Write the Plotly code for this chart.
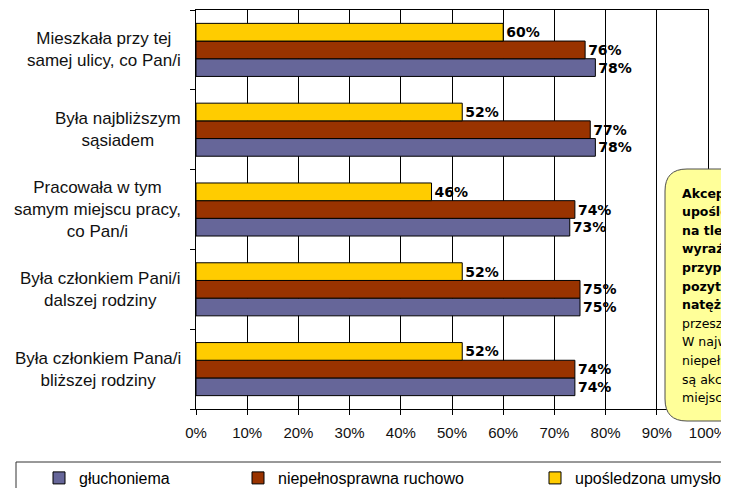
import plotly.graph_objects as go

# ---- data ----
categories = [
    "Mieszkała przy tej<br>samej ulicy, co Pan/i",
    "Była najbliższym<br>sąsiadem",
    "Pracowała w tym<br>samym miejscu pracy,<br>co Pan/i",
    "Była członkiem Pani/i<br>dalszej rodziny",
    "Była członkiem Pana/i<br>bliższej rodziny",
]
series_names = ["głuchoniema", "niepełnosprawna ruchowo", "upośledzona umysłowo"]
gluchoniema = [78, 78, 73, 75, 74]
ruchowo = [76, 77, 74, 75, 74]
umyslowo = [60, 52, 46, 52, 52]
colors = ["#666699", "#993300", "#FFCC00"]
x_ticks = [0, 10, 20, 30, 40, 50, 60, 70, 80, 90, 100]

callout_bold = [
    "Akceptacja osób",
    "upośledzonych umysłowo",
    "na tle pozostałych",
    "wyraźnie niższa – w",
    "przypadku każdej",
    "pozytywnych relacji",
    "natężenie",
]
callout_normal = [
    "przeszkadza im mniej.",
    "W największym stopniu",
    "niepełnosprawni",
    "są akceptowani w",
    "miejscu zamieszkania.",
]

# ---- layout geometry (pixels) ----
# page body has an 8px margin, so the figure is drawn 8px smaller
OFF = 8
W, H = 729 - OFF, 488 - OFF
PLOT_L, PLOT_R, PLOT_T, PLOT_B = 196, 708, 10, 409  # screen pixels of plot area
L, T = PLOT_L - OFF, PLOT_T - OFF
R, B = W - (PLOT_R - OFF), H - (PLOT_B - OFF)
PW, PH = PLOT_R - PLOT_L, PLOT_B - PLOT_T


def px2x(px):
    return (px - PLOT_L) / PW


def py2y(py):
    return (PLOT_B - py) / PH


fig = go.Figure()
values = [gluchoniema, ruchowo, umyslowo]
legends = ["legend", "legend2", "legend3"]
for name, vals, col, lg in zip(series_names, values, colors, legends):
    fig.add_trace(go.Bar(
        y=categories, x=vals, orientation="h", name=name,
        marker=dict(color=col, line=dict(color="black", width=1)),
        text=[f"{v}%" for v in vals], textposition="outside",
        textfont=dict(family="DejaVu Sans", size=14, color="black", weight="bold"),
        cliponaxis=False, legend=lg,
    ))

# category labels as centred annotations
for c in categories:
    fig.add_annotation(
        x=px2x(183), xref="paper", y=c, yref="y", text=c, showarrow=False,
        xanchor="right", yanchor="middle", align="center",
        font=dict(family="Liberation Sans", size=17, color="#111111"),
    )

# callout box (rounded rectangle, cut off at right)
x0, x1 = px2x(665), px2x(820)
yt, yb = py2y(169), py2y(421)
rx, ry = 22 / PW, 22 / PH
path = (f"M {x0+rx},{yt} L {x1},{yt} L {x1},{yb} L {x0+rx},{yb} "
        f"Q {x0},{yb} {x0},{yb+ry} L {x0},{yt-ry} Q {x0},{yt} {x0+rx},{yt} Z")
fig.add_shape(type="path", path=path, xref="paper", yref="paper",
              fillcolor="#FFFF99", line=dict(color="#4d4d4d", width=1), layer="above")

lines = [(t, True) for t in callout_bold] + [(t, False) for t in callout_normal]
y_first, spacing = 193, 18.6
for i, (t, bold) in enumerate(lines):
    fig.add_annotation(
        x=px2x(680), xref="paper", y=py2y(y_first + i * spacing), yref="paper",
        text=t, showarrow=False, xanchor="left", yanchor="middle", align="left",
        font=dict(family="DejaVu Sans", size=12.5, color="black",
                  weight="bold" if bold else "normal"),
    )

# legend frame
fig.add_shape(type="rect", xref="paper", yref="paper",
              x0=px2x(16), x1=px2x(820), y0=py2y(462), y1=py2y(530),
              line=dict(color="#333333", width=1), fillcolor="rgba(0,0,0,0)")

leg_x = [39, 238, 535]
leg_common = dict(orientation="h", yanchor="middle", xanchor="left",
                  bgcolor="rgba(0,0,0,0)", itemwidth=30,
                  font=dict(family="Liberation Sans", size=16, color="black"))
fig.update_layout(
    legend=dict(x=px2x(leg_x[0]), y=py2y(478), **leg_common),
    legend2=dict(x=px2x(leg_x[1]), y=py2y(478), **leg_common),
    legend3=dict(x=px2x(leg_x[2]), y=py2y(478), **leg_common),
)

fig.update_layout(
    width=W, height=H,
    margin=dict(l=L, r=R, t=T, b=B, pad=0, autoexpand=False),
    paper_bgcolor="white", plot_bgcolor="white",
    barmode="group", bargap=0.335, bargroupgap=0,
    uniformtext=dict(mode=False),
    showlegend=True,
)
fig.update_xaxes(
    range=[0, 100], tickvals=x_ticks, ticktext=[f"{v}%" for v in x_ticks],
    showgrid=True, gridcolor="black", gridwidth=1,
    showline=True, linecolor="black", linewidth=1, mirror=True,
    ticks="outside", ticklen=5, tickcolor="black", ticklabelstandoff=5,
    tickfont=dict(family="Liberation Sans", size=15, color="#111111"),
    zeroline=False, fixedrange=True,
)
fig.update_yaxes(
    categoryorder="array", categoryarray=categories[::-1],
    showticklabels=False, tickson="boundaries", ticks="outside", ticklen=5,
    tickcolor="black", showline=True, linecolor="black", linewidth=1,
    mirror=True, showgrid=False, fixedrange=True,
)

fig.write_html("out.html")
